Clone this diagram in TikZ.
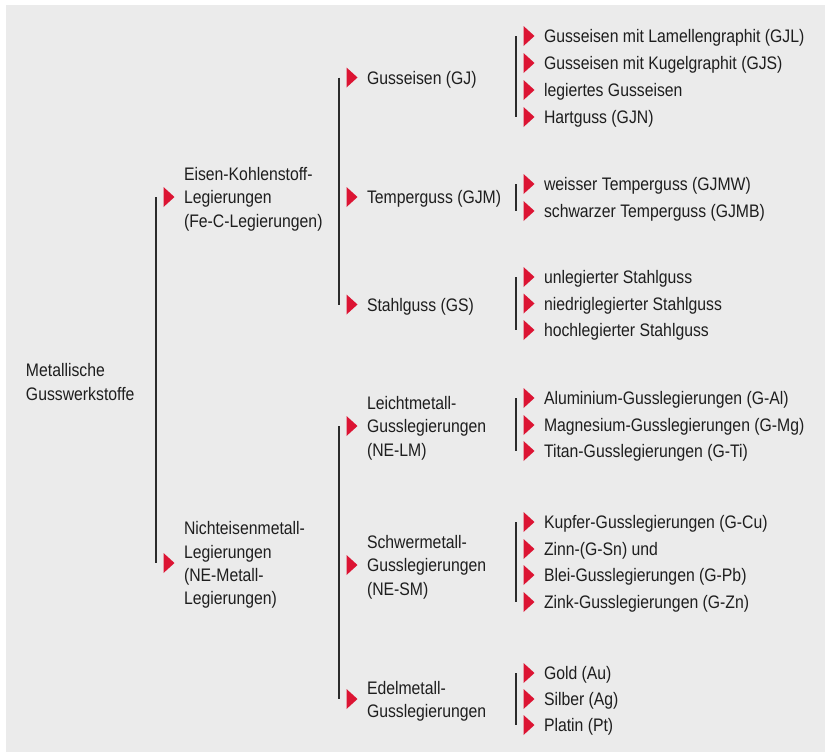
\documentclass[tikz,border=0pt]{standalone}
\usepackage{fontspec}
\setmainfont{Liberation Sans}[FakeStretch=0.87]
\usetikzlibrary{calc}
\definecolor{bggray}{HTML}{EBEBEB}
\definecolor{markred}{HTML}{DC1433}
\definecolor{txt}{HTML}{1E1E1E}
\definecolor{linec}{HTML}{2B2B2B}
\newcommand{\redmark}[1]{\fill[markred] ($(#1.west)+(-20.5,-12)$) -- ($(#1.west)+(-9.5,-2)$) -- ($(#1.west)+(-20.5,8)$) -- cycle;}
\newcommand{\bracketline}[2]{\draw[vline] ($(#1.west)+(-28,-2)$) -- ($(#2.west)+(-28,-2)$);}
\begin{document}
\begin{tikzpicture}[x=0.75pt,y=-0.75pt,
  lbl/.style={anchor=west, inner sep=0pt, outer sep=0pt, align=left, text=txt, yshift=-1.5pt, font=\fontsize{13.6}{17.5}\selectfont},
  vline/.style={draw=linec, line width=1.3pt}]
\useasboundingbox (0,0) rectangle (825,753);
\fill[white] (0,0) rectangle (825,753);
\fill[bggray] (6,5) rectangle (825,752);

% level 0
\node[lbl] (root) at (26,380) {Metallische\\Gusswerkstoffe};

% level 1
\node[lbl] (fe) at (184,197) {Eisen-Kohlenstoff-\\Legierungen\\(Fe-C-Legierungen)};
\node[lbl] (ne) at (184,563) {Nichteisenmetall-\\Legierungen\\(NE-Metall-\\Legierungen)};

% level 2
\node[lbl] (gj) at (367,77.5) {Gusseisen (GJ)};
\node[lbl] (gjm) at (367,197) {Temperguss (GJM)};
\node[lbl] (gs) at (367,304.5) {Stahlguss (GS)};
\node[lbl] (lm) at (367,426) {Leichtmetall-\\Gusslegierungen\\(NE-LM)};
\node[lbl] (sm) at (367,565) {Schwermetall-\\Gusslegierungen\\(NE-SM)};
\node[lbl] (em) at (367,699) {Edelmetall-\\Gusslegierungen};

% level 3
\node[lbl] (gj1) at (544,36) {Gusseisen mit Lamellengraphit (GJL)};
\node[lbl] (gj2) at (544,63) {Gusseisen mit Kugelgraphit (GJS)};
\node[lbl] (gj3) at (544,90) {legiertes Gusseisen};
\node[lbl] (gj4) at (544,117) {Hartguss (GJN)};
\node[lbl] (gjm1) at (544,184) {weisser Temperguss (GJMW)};
\node[lbl] (gjm2) at (544,211) {schwarzer Temperguss (GJMB)};
\node[lbl] (gs1) at (544,277) {unlegierter Stahlguss};
\node[lbl] (gs2) at (544,303.5) {niedriglegierter Stahlguss};
\node[lbl] (gs3) at (544,330) {hochlegierter Stahlguss};
\node[lbl] (lm1) at (544,398) {Aluminium-Gusslegierungen (G-Al)};
\node[lbl] (lm2) at (544,425) {Magnesium-Gusslegierungen (G-Mg)};
\node[lbl] (lm3) at (544,451) {Titan-Gusslegierungen (G-Ti)};
\node[lbl] (sm1) at (544,522) {Kupfer-Gusslegierungen (G-Cu)};
\node[lbl] (sm2) at (544,549) {Zinn-(G-Sn) und};
\node[lbl] (sm3) at (544,575) {Blei-Gusslegierungen (G-Pb)};
\node[lbl] (sm4) at (544,602) {Zink-Gusslegierungen (G-Zn)};
\node[lbl] (em1) at (544,673) {Gold (Au)};
\node[lbl] (em2) at (544,699) {Silber (Ag)};
\node[lbl] (em3) at (544,725) {Platin (Pt)};

% markers
\foreach \n in {fe,ne,gj,gjm,gs,lm,sm,em,gj1,gj2,gj3,gj4,gjm1,gjm2,gs1,gs2,gs3,lm1,lm2,lm3,sm1,sm2,sm3,sm4,em1,em2,em3}{\redmark{\n}}

% connectors
\bracketline{fe}{ne}
\bracketline{gj}{gs}
\bracketline{lm}{em}
\bracketline{gj1}{gj4}
\bracketline{gjm1}{gjm2}
\bracketline{gs1}{gs3}
\bracketline{lm1}{lm3}
\bracketline{sm1}{sm4}
\bracketline{em1}{em3}
\end{tikzpicture}
\end{document}
